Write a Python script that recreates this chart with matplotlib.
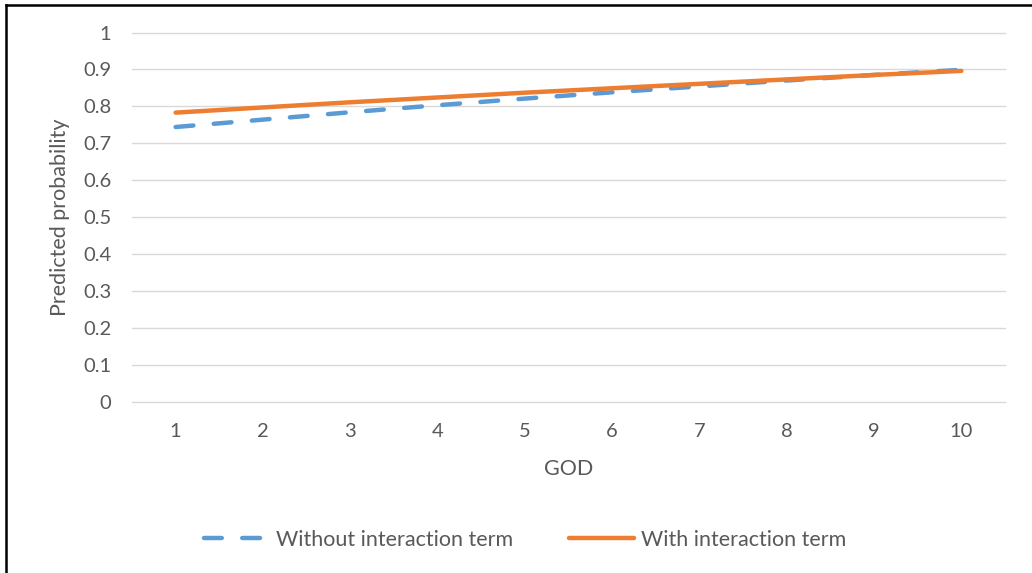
import matplotlib
matplotlib.use("Agg")
import matplotlib.pyplot as plt
from matplotlib.lines import Line2D

# data
god = [1, 2, 3, 4, 5, 6, 7, 8, 9, 10]
without_term = [0.744, 0.764, 0.784, 0.803, 0.821, 0.838, 0.854, 0.870, 0.885, 0.899]
with_term = [0.783, 0.797, 0.811, 0.824, 0.837, 0.849, 0.861, 0.873, 0.885, 0.896]
yticks = [0, 0.1, 0.2, 0.3, 0.4, 0.5, 0.6, 0.7, 0.8, 0.9, 1]
ytick_labels = ["0", "0.1", "0.2", "0.3", "0.4", "0.5", "0.6", "0.7", "0.8", "0.9", "1"]

plt.rcParams['font.family'] = ['Lato', 'DejaVu Sans']
txt = "#595959"
W, H = 1032, 573

fig = plt.figure(figsize=(W / 100, H / 100), dpi=100)
ax = fig.add_axes([132 / W, (H - 401.7) / H, (1005 - 132) / W, 369.2 / H])

ax.plot(god, without_term, color="#5b9bd5", lw=3.2, ls=(0, (4, 4.6)),
        dash_capstyle="round", solid_capstyle="round", label="Without interaction term")
ax.plot(god, with_term, color="#ed7d31", lw=3.2, solid_capstyle="round",
        label="With interaction term")

ax.set_xlim(0.5, 10.5)
ax.set_ylim(0, 1)
ax.set_xticks(god)
ax.set_xticklabels([str(g) for g in god])
ax.set_yticks(yticks)
ax.set_yticklabels(ytick_labels)
ax.tick_params(length=0, labelsize=14.5, labelcolor=txt)
ax.tick_params(axis="x", pad=15)
ax.tick_params(axis="y", pad=15)
ax.grid(axis="y", color="#d9d9d9", lw=1.0)
for gl in ax.yaxis.get_gridlines():
    gl.set_clip_on(False)
ax.set_axisbelow(True)
for s in ax.spines.values():
    s.set_visible(False)

ax.set_xlabel("GOD", fontsize=15.5, color=txt, labelpad=14)
ax.set_ylabel("Predicted probability", fontsize=15.5, color=txt, labelpad=9)

fig.legend(loc="center", bbox_to_anchor=(525 / W, 1 - 540 / H), ncol=2, frameon=False,
           fontsize=15.5, labelcolor=txt, handlelength=3.0, handletextpad=0.35,
           columnspacing=2.6)

# black frame (right and bottom cut off in the reference)
fig.add_artist(Line2D([6 / W, 6 / W], [0, 1 - 5 / H], color="black", lw=1.8,
                      transform=fig.transFigure))
fig.add_artist(Line2D([6 / W, 1], [1 - 5 / H, 1 - 5 / H], color="black", lw=1.8,
                      transform=fig.transFigure))

fig.savefig("out.png", dpi=100)
